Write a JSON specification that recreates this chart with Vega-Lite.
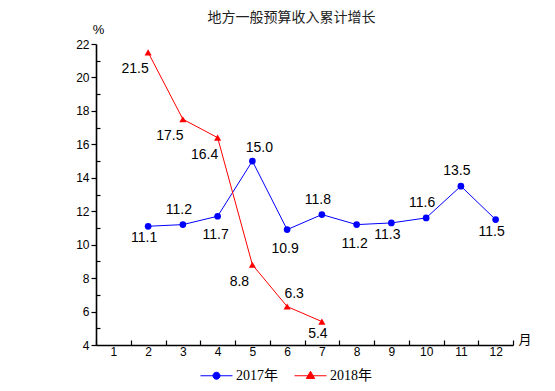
{
  "$schema": "https://vega.github.io/schema/vega-lite/v6.json",
  "width": 417,
  "height": 301,
  "autosize": "none",
  "padding": {"left": 96, "top": 44, "right": 42, "bottom": 46},
  "background": "white",
  "title": {
    "text": "地方一般预算收入累计增长",
    "font": "Noto Sans CJK SC",
    "fontSize": 14,
    "fontWeight": "normal",
    "color": "#222222",
    "anchor": "middle",
    "dx": -13,
    "dy": 6
  },
  "config": {
    "view": {"stroke": null},
    "axis": {
      "grid": false,
      "domainColor": "#000000",
      "tickColor": "#000000",
      "labelColor": "#000000",
      "titleColor": "#000000",
      "labelFont": "Liberation Sans",
      "labelFontSize": 12,
      "domainWidth": 1.6,
      "tickWidth": 1.2
    }
  },
  "data": {
    "values": [
      {"month": 2, "series": "2017年", "value": 11.1},
      {"month": 3, "series": "2017年", "value": 11.2},
      {"month": 4, "series": "2017年", "value": 11.7},
      {"month": 5, "series": "2017年", "value": 15.0},
      {"month": 6, "series": "2017年", "value": 10.9},
      {"month": 7, "series": "2017年", "value": 11.8},
      {"month": 8, "series": "2017年", "value": 11.2},
      {"month": 9, "series": "2017年", "value": 11.3},
      {"month": 10, "series": "2017年", "value": 11.6},
      {"month": 11, "series": "2017年", "value": 13.5},
      {"month": 12, "series": "2017年", "value": 11.5},
      {"month": 2, "series": "2018年", "value": 21.5},
      {"month": 3, "series": "2018年", "value": 17.5},
      {"month": 4, "series": "2018年", "value": 16.4},
      {"month": 5, "series": "2018年", "value": 8.8},
      {"month": 6, "series": "2018年", "value": 6.3},
      {"month": 7, "series": "2018年", "value": 5.4}
    ]
  },
  "encoding": {
    "x": {
      "field": "month",
      "type": "ordinal",
      "scale": {"type": "band", "domain": [1,2,3,4,5,6,7,8,9,10,11,12], "paddingInner": 0, "paddingOuter": 0},
      "axis": {
        "labelAngle": 0,
        "tickBand": "extent",
        "tickSize": -5,
        "labelPadding": 6,
        "title": "月",
        "titleFont": "Noto Sans CJK SC",
        "titleFontSize": 13,
        "titleFontWeight": "normal",
        "titleAngle": 0,
        "titleAlign": "left",
        "titleBaseline": "middle",
        "titleX": 422,
        "titleY": -6
      }
    },
    "y": {
      "field": "value",
      "type": "quantitative",
      "scale": {"domain": [4, 22], "nice": false, "zero": false},
      "axis": null
    },
    "color": {
      "field": "series",
      "type": "nominal",
      "scale": {"domain": ["2017年", "2018年"], "range": ["#0000ff", "#ff0000"]},
      "legend": {
        "orient": "none",
        "legendX": 104,
        "legendY": 315,
        "direction": "horizontal",
        "title": null,
        "symbolSize": 1024,
        "symbolStrokeWidth": 1,
        "labelFont": "Liberation Serif, Noto Sans CJK SC",
        "labelFontSize": 14,
        "labelColor": "#000000",
        "labelOffset": 3,
        "columnPadding": 14,
        "encode": {
          "symbols": {
            "update": {
              "shape": {"signal": "datum.value === '2017年' ? 'M-1,0H1M-0.22,0A0.22,0.22,0,1,0,0.22,0A0.22,0.22,0,1,0,-0.22,0Z' : 'M-1,0H1M0,-0.28L0.26,0.17L-0.26,0.17Z'"},
              "fill": {"signal": "datum.value === '2017年' ? '#0000ff' : '#ff0000'"},
              "stroke": {"signal": "datum.value === '2017年' ? '#0000ff' : '#ff0000'"},
              "opacity": {"value": 1},
              "strokeWidth": {"value": 1}
            }
          }
        }
      }
    }
  },
  "layer": [
    {
      "mark": {"type": "line", "strokeWidth": 1},
      "encoding": {
        "y": {
          "field": "value",
          "type": "quantitative",
          "axis": {
            "values": [4, 6, 8, 10, 12, 14, 16, 18, 20, 22],
            "tickSize": 5,
            "labelPadding": 2,
            "orient": "left",
            "title": "%",
            "titleFont": "Liberation Sans",
            "titleFontSize": 13,
            "titleFontWeight": "normal",
            "titleAngle": 0,
            "titleAlign": "center",
            "titleBaseline": "middle",
            "titleX": 2,
            "titleY": -15
          }
        }
      }
    },
    {
      "transform": [{"filter": "datum.series === '2017年'"}],
      "mark": {"type": "point", "shape": "circle", "filled": true, "size": 45, "opacity": 1},
      "encoding": {
        "y": {
          "field": "value",
          "type": "quantitative",
          "axis": {
            "values": [5, 7, 9, 11, 13, 15, 17, 19, 21],
            "orient": "left",
            "tickSize": -4,
            "labels": false,
            "domain": false,
            "title": null
          }
        }
      }
    },
    {
      "transform": [{"filter": "datum.series === '2018年'"}],
      "mark": {"type": "point", "shape": "triangle-up", "filled": true, "size": 50, "opacity": 1}
    },
    {
      "transform": [{"filter": "datum.series === '2018年' && indexof([2,3,4,5], datum.month) >= 0"}],
      "mark": {"type": "text", "font": "Liberation Sans", "fontSize": 14, "dx": -13, "dy": 17},
      "encoding": {"text": {"field": "value", "type": "quantitative", "format": ".1f"}, "color": {"value": "#000000"}}
    },
    {
      "transform": [{"filter": "(datum.series === '2017年' && indexof([2,9,12], datum.month) >= 0) || (datum.series === '2018年' && datum.month === 7)"}],
      "mark": {"type": "text", "font": "Liberation Sans", "fontSize": 14, "dx": -4, "dy": 12},
      "encoding": {"text": {"field": "value", "type": "quantitative", "format": ".1f"}, "color": {"value": "#000000"}}
    },
    {
      "transform": [{"filter": "datum.series === '2017年' && indexof([4,6,8], datum.month) >= 0"}],
      "mark": {"type": "text", "font": "Liberation Sans", "fontSize": 14, "dx": -2, "dy": 19},
      "encoding": {"text": {"field": "value", "type": "quantitative", "format": ".1f"}, "color": {"value": "#000000"}}
    },
    {
      "transform": [{"filter": "datum.series === '2017年' && indexof([3,7,10,11], datum.month) >= 0"}],
      "mark": {"type": "text", "font": "Liberation Sans", "fontSize": 14, "dx": -4, "dy": -15},
      "encoding": {"text": {"field": "value", "type": "quantitative", "format": ".1f"}, "color": {"value": "#000000"}}
    },
    {
      "transform": [{"filter": "(datum.series === '2017年' && datum.month === 5) || (datum.series === '2018年' && datum.month === 6)"}],
      "mark": {"type": "text", "font": "Liberation Sans", "fontSize": 14, "dx": 7, "dy": -13},
      "encoding": {"text": {"field": "value", "type": "quantitative", "format": ".1f"}, "color": {"value": "#000000"}}
    }
  ],
  "resolve": {"axis": {"y": "independent"}}
}
